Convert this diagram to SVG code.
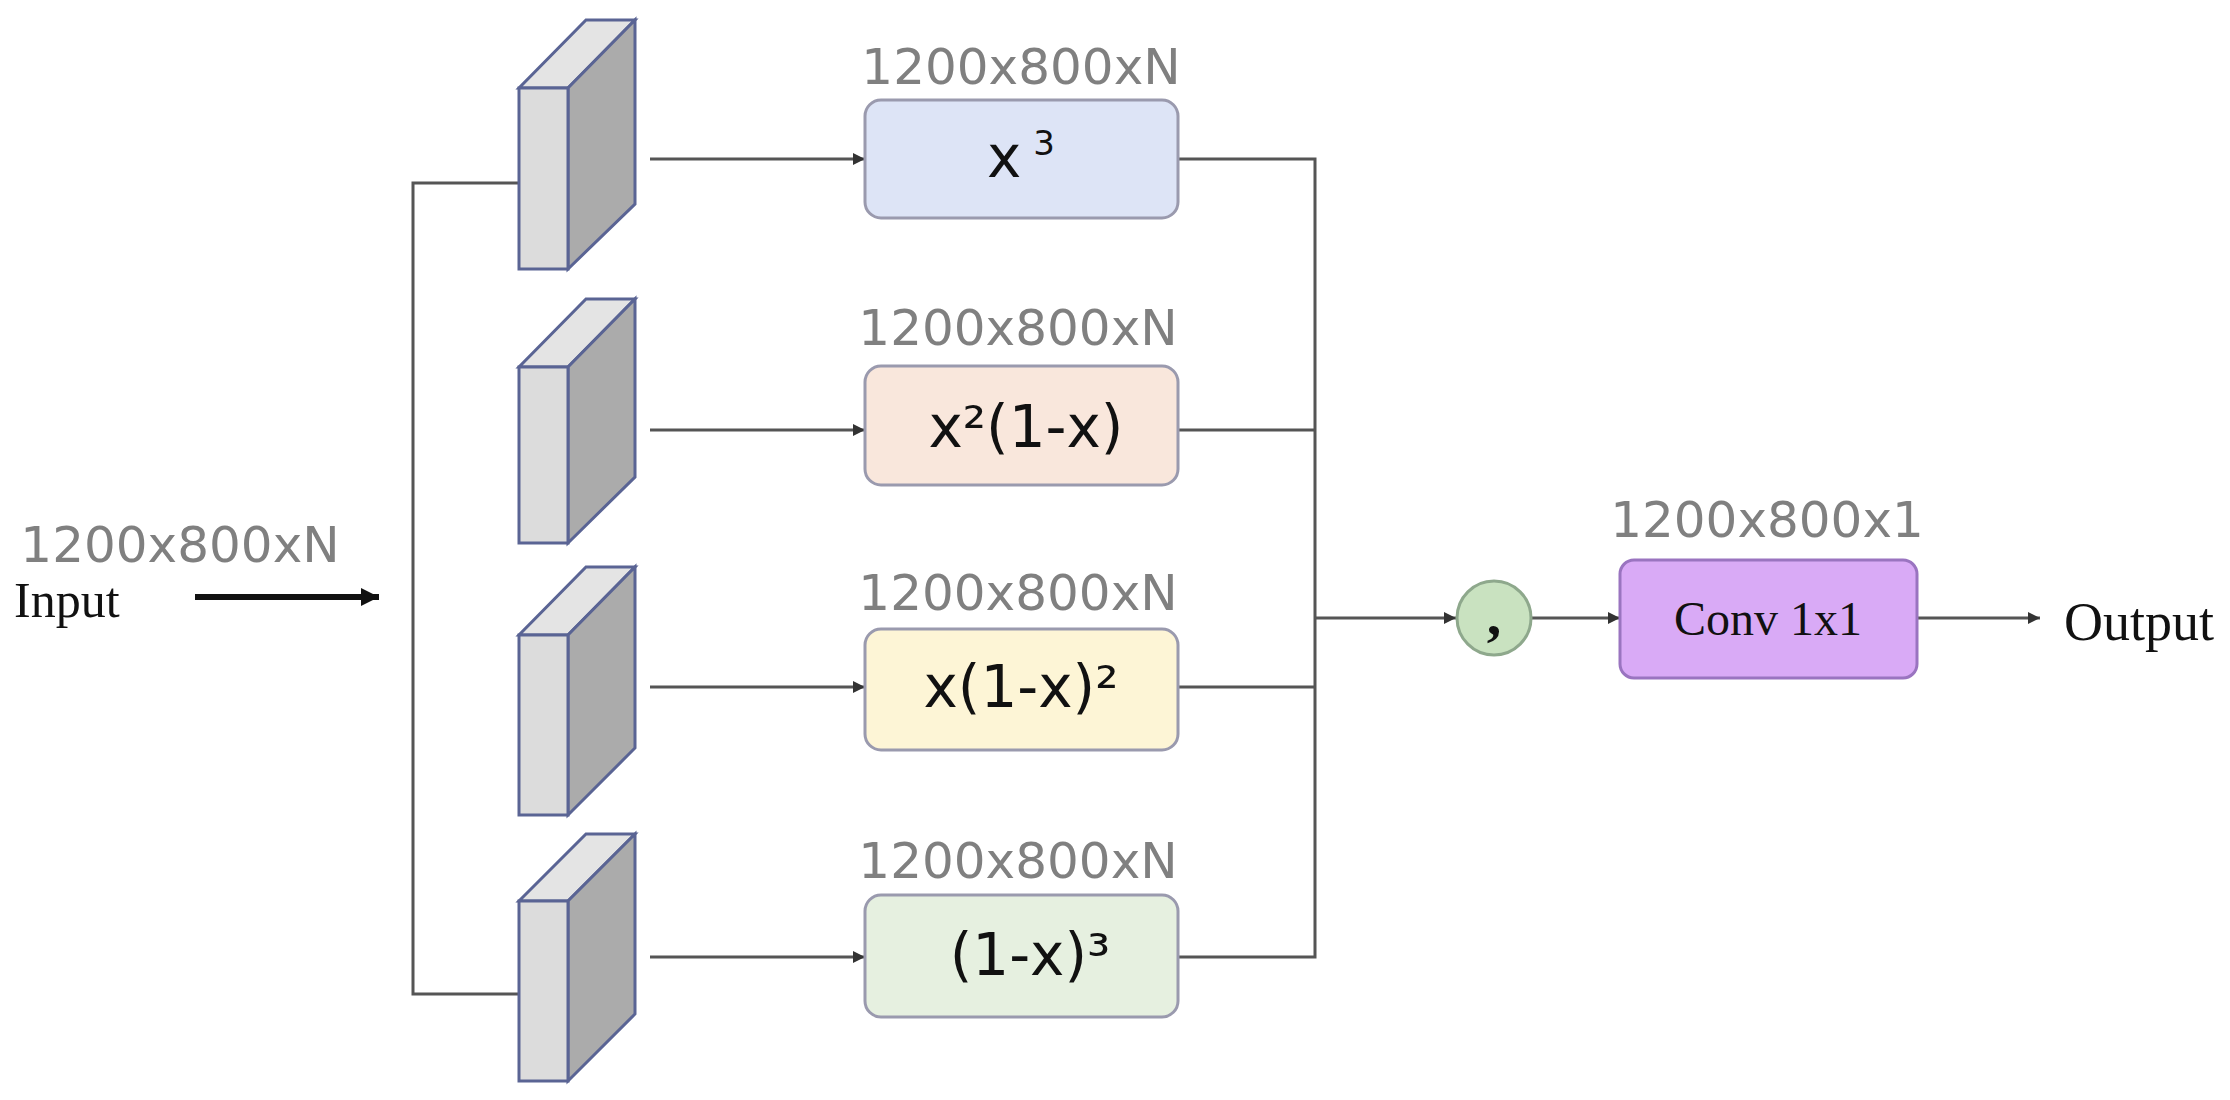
<svg xmlns="http://www.w3.org/2000/svg" width="2230" height="1100" viewBox="0 0 2230 1100">
<defs>
<marker id="ah" viewBox="0 0 10 10" refX="10" refY="5" markerWidth="4" markerHeight="4" orient="auto" markerUnits="strokeWidth"><path d="M0,0 L10,5 L0,10 z" fill="#333"/></marker>
<marker id="ahb" viewBox="0 0 10 10" refX="10" refY="5" markerWidth="3" markerHeight="3" orient="auto" markerUnits="strokeWidth"><path d="M0,0 L10,5 L0,10 z" fill="#111"/></marker>
</defs>
<style>
.dim{font-family:"DejaVu Sans",sans-serif;font-size:50px;fill:#808080;text-anchor:middle}
.f{font-family:"DejaVu Sans",sans-serif;font-size:58px;fill:#111;text-anchor:middle}
.serif{font-family:"Liberation Serif",serif;fill:#111}
.ln{stroke:#555;stroke-width:3;fill:none}
.front{fill:#dcdcdc;stroke:#5a6494;stroke-width:3}
.side{fill:#ababab;stroke:#5a6494;stroke-width:3}
.top{fill:#e4e4e4;stroke:#5a6494;stroke-width:3}
.box{stroke:#9a9aae;stroke-width:3}
</style>
<rect width="2230" height="1100" fill="#fff"/>
<g id="connectors">
<line x1="195" y1="597" x2="379" y2="597" stroke="#111" stroke-width="6" marker-end="url(#ahb)"/>
<polyline class="ln" points="519,183 413,183 413,994 519,994"/>
<line class="ln" x1="650" y1="159" x2="865" y2="159" marker-end="url(#ah)"/>
<line class="ln" x1="650" y1="430" x2="865" y2="430" marker-end="url(#ah)"/>
<line class="ln" x1="650" y1="687" x2="865" y2="687" marker-end="url(#ah)"/>
<line class="ln" x1="650" y1="957" x2="865" y2="957" marker-end="url(#ah)"/>
<polyline class="ln" points="1178,159 1315,159 1315,957 1178,957"/>
<line class="ln" x1="1178" y1="430" x2="1315" y2="430"/>
<line class="ln" x1="1178" y1="687" x2="1315" y2="687"/>
<line class="ln" x1="1315" y1="618" x2="1456" y2="618" marker-end="url(#ah)"/>
<line class="ln" x1="1532" y1="618" x2="1620" y2="618" marker-end="url(#ah)"/>
<line class="ln" x1="1917" y1="618" x2="2040" y2="618" marker-end="url(#ah)"/>
</g>
<g id="input">
<text class="dim" x="180" y="562">1200x800xN</text>
<text class="serif" x="14" y="617" font-size="50">Input</text>
</g>
<g id="block1"><polygon class="top" points="519,88 568,88 635,20 586,20"/><polygon class="side" points="568,88 635,20 635,204 568,269"/><rect class="front" x="519" y="88" width="49" height="181"/></g>
<g id="block2"><polygon class="top" points="519,367 568,367 635,299 586,299"/><polygon class="side" points="568,367 635,299 635,477 568,543"/><rect class="front" x="519" y="367" width="49" height="176"/></g>
<g id="block3"><polygon class="top" points="519,635 568,635 635,567 586,567"/><polygon class="side" points="568,635 635,567 635,748 568,815"/><rect class="front" x="519" y="635" width="49" height="180"/></g>
<g id="block4"><polygon class="top" points="519,901 568,901 635,834 586,834"/><polygon class="side" points="568,901 635,834 635,1014 568,1081"/><rect class="front" x="519" y="901" width="49" height="180"/></g>
<g id="box1"><text class="dim" x="1021" y="84">1200x800xN</text><rect class="box" x="865" y="100" width="313" height="118" rx="16" fill="#dde4f6"/><text class="f" x="1021" y="177">x<tspan font-size="34" dx="12" dy="-22">3</tspan></text></g>
<g id="box2"><text class="dim" x="1018" y="345">1200x800xN</text><rect class="box" x="865" y="366" width="313" height="119" rx="16" fill="#f9e7dc"/><text class="f" x="1026" y="447">x²(1-x)</text></g>
<g id="box3"><text class="dim" x="1018" y="610">1200x800xN</text><rect class="box" x="865" y="629" width="313" height="121" rx="16" fill="#fdf5d6"/><text class="f" x="1021" y="707">x(1-x)²</text></g>
<g id="box4"><text class="dim" x="1018" y="878">1200x800xN</text><rect class="box" x="865" y="895" width="313" height="122" rx="16" fill="#e6f0e0"/><text class="f" x="1030" y="975">(1-x)³</text></g>
<g id="concat"><circle cx="1494" cy="618" r="37" fill="#c9e2c0" stroke="#8ea88c" stroke-width="3"/><text class="serif" x="1494" y="634" font-size="58" font-weight="bold" text-anchor="middle">,</text></g>
<g id="conv"><text class="dim" x="1767" y="537">1200x800x1</text><rect x="1620" y="560" width="297" height="118" rx="14" fill="#d9aaf6" stroke="#9a74c0" stroke-width="3"/><text class="serif" x="1768" y="635" font-size="48" text-anchor="middle" fill="#2a1040">Conv 1x1</text></g>
<g id="output"><text class="serif" x="2064" y="640" font-size="54">Output</text></g>
</svg>
